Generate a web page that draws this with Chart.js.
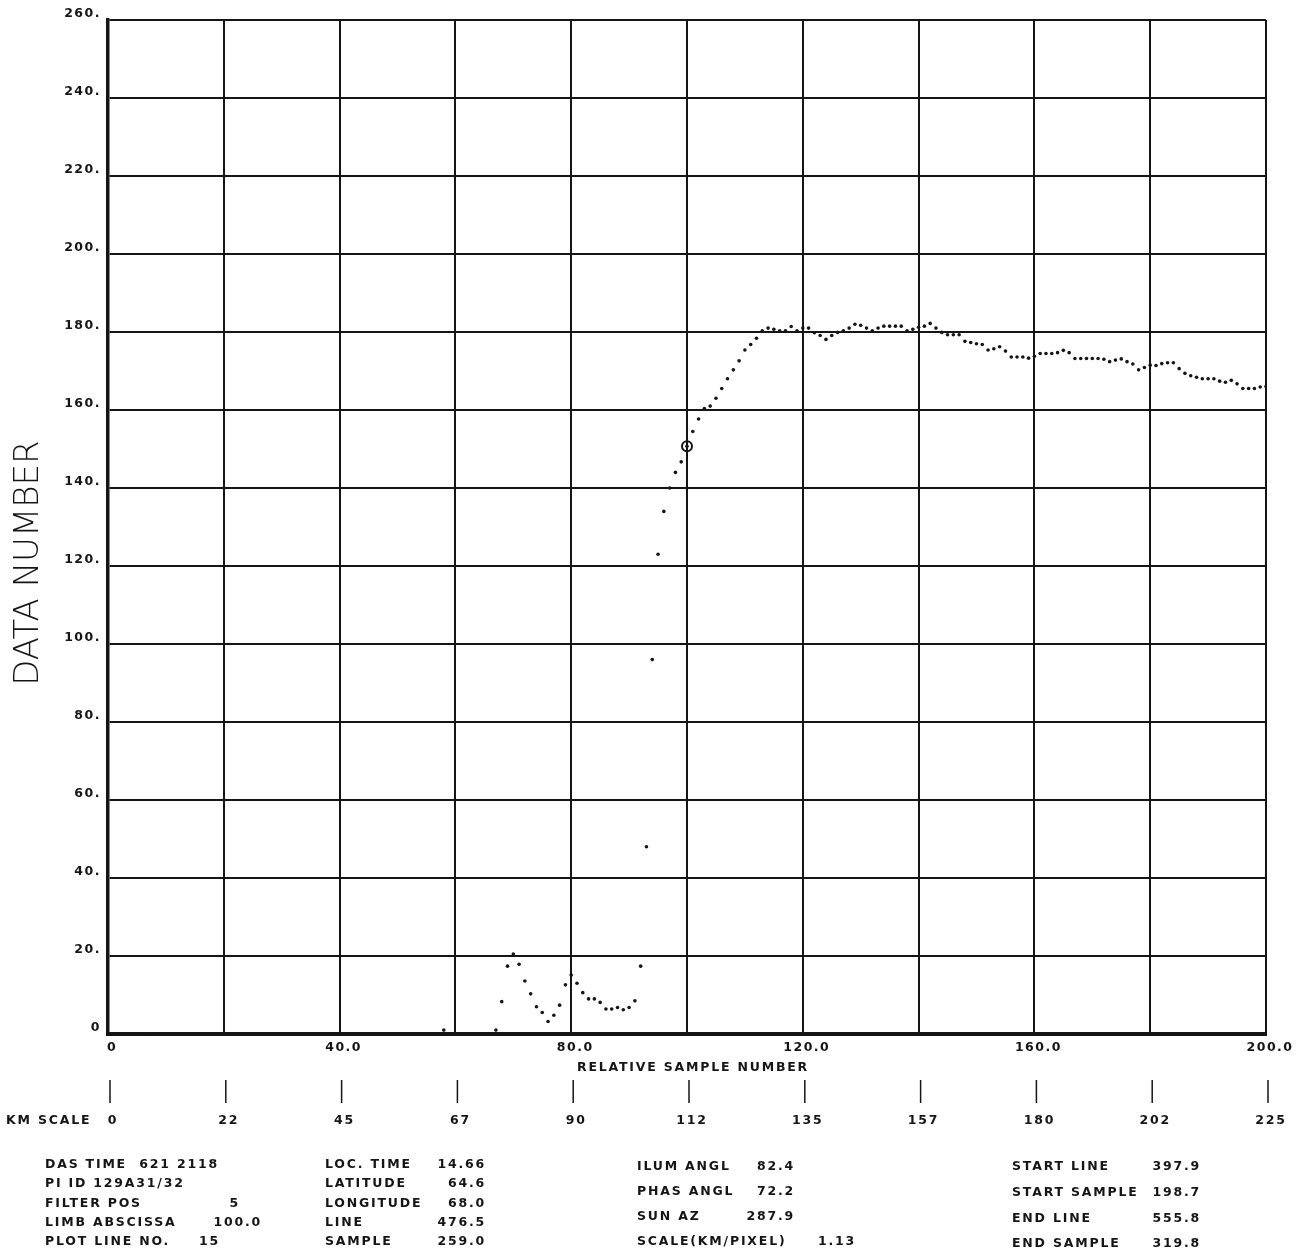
<!DOCTYPE html>
<html>
<head>
<meta charset="utf-8">
<script src="https://cdn.jsdelivr.net/npm/chart.js@4.4.0/dist/chart.umd.min.js"></script>
<style>
  html, body { margin: 0; padding: 0; background: #fff; }
  #wrap { width: 1309px; height: 1254px; position: relative; }
</style>
</head>
<body>
<div id="wrap"><canvas id="plot"></canvas></div>
<script>
// data number per relative sample (index = sample number 0..200)
const dataNumber = [
  0, 0, 0, 0, 0, 0, 0, 0, 0, 0,
  0, 0, 0, 0, 0, 0, 0, 0, 0, 0,
  0, 0, 0, 0, 0, 0, 0, 0, 0, 0,
  0, 0, 0, 0, 0, 0, 0, 0, 0, 0,
  0, 0, 0, 0, 0, 0, 0, 0, 0, 0,
  0, 0, 0, 0, 0, 0, 0, 0, 1, 0,
  0, 0, 0, 0, 0, 0, 0, 1, 8.3, 17.4,
  20.5, 17.9, 13.6, 10.3, 7, 5.5, 3.2, 4.8, 7.4, 12.6,
  15.1, 13, 10.6, 9, 9, 8.1, 6.4, 6.4, 6.8, 6.2,
  6.8, 8.5, 17.4, 48, 96, 123, 134, 140, 144, 146.7,
  150.7, 154.5, 157.7, 160.4, 161, 163, 165.5, 168, 170.3, 172.6,
  175.4, 176.8, 178.4, 180.3, 181, 180.7, 180.3, 180.3, 181.4, 180.3,
  181, 181, 179.8, 179.1, 178.1, 179.1, 179.9, 180.3, 181, 182,
  181.7, 181, 180.3, 181, 181.5, 181.5, 181.5, 181.5, 180.3, 180.7,
  181.2, 181.5, 182.2, 181, 179.9, 179.3, 179.3, 179.3, 177.6, 177.3,
  177, 176.8, 175.4, 175.7, 176.2, 175.1, 173.6, 173.6, 173.6, 173.3,
  173.8, 174.5, 174.5, 174.5, 174.7, 175.3, 174.7, 173.2, 173.2, 173.2,
  173.2, 173.2, 173, 172.4, 172.8, 173.1, 172.4, 171.8, 170.3, 170.9,
  171.5, 171.4, 171.9, 172.1, 172.1, 170.6, 169.4, 168.8, 168.4, 168,
  168, 168, 167.4, 167.1, 167.6, 166.7, 165.5, 165.5, 165.5, 165.9,
  166
];
const limbAbscissa = 100;

const kmLabels = ['0', '22', '45', '67', '90', '112', '135', '157', '180', '202', '225'];
const xTitle = 'RELATIVE SAMPLE NUMBER';
const yTitle = 'DATA NUMBER';

const block1Labels = ['DAS TIME  621 2118', 'PI ID 129A31/32', 'FILTER POS', 'LIMB ABSCISSA', 'PLOT LINE NO.'];
const block1Values = ['', '', '5', '100.0', '15'];
const block2Labels = ['LOC. TIME', 'LATITUDE', 'LONGITUDE', 'LINE', 'SAMPLE'];
const block2Values = ['14.66', '64.6', '68.0', '476.5', '259.0'];
const block3Labels = ['ILUM ANGL', 'PHAS ANGL', 'SUN AZ', 'SCALE(KM/PIXEL)'];
const block3Values = ['82.4', '72.2', '287.9', '1.13'];
const block4Labels = ['START LINE', 'START SAMPLE', 'END LINE', 'END SAMPLE'];
const block4Values = ['397.9', '198.7', '555.8', '319.8'];

const points = dataNumber.map((v, i) => ({ x: i, y: v }));
const limbPoint = [{ x: limbAbscissa, y: dataNumber[limbAbscissa] }];

const ink = '#151515';
const plotFont = '"DejaVu Sans", sans-serif';
const tickFont = { family: plotFont, size: 12.5, weight: 'bold' };

const plotterText = {
  id: 'plotterText',
  beforeDraw(chart) {
    chart.ctx.letterSpacing = '1.5px';
  },
  afterDraw(chart) {
    const c = chart.ctx;
    const xs = chart.scales.x;
    c.save();
    c.fillStyle = ink;
    c.strokeStyle = ink;
    c.letterSpacing = '1.8px';
    c.font = 'bold 12.5px ' + plotFont;
    c.textBaseline = 'middle';

    c.textAlign = 'center';
    c.fillText(xTitle, xs.getPixelForValue(100) + 6, 1068);

    // km scale
    c.lineWidth = 1.5;
    kmLabels.forEach((lab, i) => {
      const px = xs.getPixelForValue(i * 20) + 2;
      c.beginPath();
      c.moveTo(px, 1080);
      c.lineTo(px, 1103);
      c.stroke();
      c.fillText(lab, px + 3, 1121);
    });
    c.textAlign = 'left';
    c.fillText('KM SCALE', 6, 1121);

    // info blocks
    block1Labels.forEach((t, i) => {
      const y = 1165 + i * 19.2;
      c.textAlign = 'left';
      c.fillText(t, 45, y);
      if (block1Values[i]) {
        c.textAlign = 'right';
        c.fillText(block1Values[i], i === 2 ? 240 : (i === 3 ? 262 : 220), y);
      }
    });
    block2Labels.forEach((t, i) => {
      const y = 1165 + i * 19.2;
      c.textAlign = 'left';
      c.fillText(t, 325, y);
      c.textAlign = 'right';
      c.fillText(block2Values[i], 486, y);
    });
    block3Labels.forEach((t, i) => {
      const y = 1167 + i * 25;
      c.textAlign = 'left';
      c.fillText(t, 637, y);
      c.textAlign = 'right';
      c.fillText(block3Values[i], i === 3 ? 856 : 795, y);
    });
    c.font = '600 12.5px ' + plotFont;
    block4Labels.forEach((t, i) => {
      const y = 1167 + i * 25.7;
      c.textAlign = 'left';
      c.fillText(t, 1012, y);
      c.textAlign = 'right';
      c.fillText(block4Values[i], 1201, y);
    });

    // y axis title
    c.translate(38, 563);
    c.rotate(-Math.PI / 2);
    c.letterSpacing = '0px';
    c.font = '200 34px "DejaVu Sans", sans-serif';
    c.textAlign = 'center';
    c.textBaseline = 'alphabetic';
    c.fillText(yTitle, 0, 0);
    c.restore();
  }
};

const ctx = document.getElementById('plot').getContext('2d');

new Chart(ctx, {
  type: 'scatter',
  data: {
    datasets: [
      {
        data: points,
        pointRadius: 1.8,
        pointHoverRadius: 1.8,
        pointBackgroundColor: ink,
        pointBorderWidth: 0
      },
      {
        data: limbPoint,
        pointRadius: 5,
        pointHoverRadius: 5,
        pointBackgroundColor: 'rgba(0,0,0,0)',
        pointBorderColor: ink,
        pointBorderWidth: 2
      }
    ]
  },
  options: {
    responsive: true,
    maintainAspectRatio: false,
    animation: false,
    events: [],
    layout: { padding: { top: 20, right: 43, left: 0, bottom: 0 } },
    plugins: {
      legend: { display: false },
      tooltip: { enabled: false }
    },
    scales: {
      x: {
        type: 'linear',
        min: 0,
        max: 200,
        ticks: {
          stepSize: 20,
          autoSkip: false,
          maxRotation: 0,
          padding: 6,
          labelOffset: 4,
          color: ink,
          font: tickFont,
          callback: v => v % 40 === 0 ? (v === 0 ? '0' : v.toFixed(1)) : ''
        },
        grid: { color: ink, lineWidth: 2, drawTicks: false },
        border: { color: ink, width: 4 },
        afterFit: s => { s.height = 220; }
      },
      y: {
        min: 0,
        max: 260,
        ticks: {
          stepSize: 20,
          padding: 7,
          labelOffset: -6,
          color: ink,
          font: tickFont,
          callback: v => v === 0 ? '0' : v + '.'
        },
        grid: { color: ink, lineWidth: 2, drawTicks: false },
        border: { color: ink, width: 3.5 },
        afterFit: s => { s.width = 108; }
      }
    }
  },
  plugins: [plotterText]
});
</script>
</body>
</html>
